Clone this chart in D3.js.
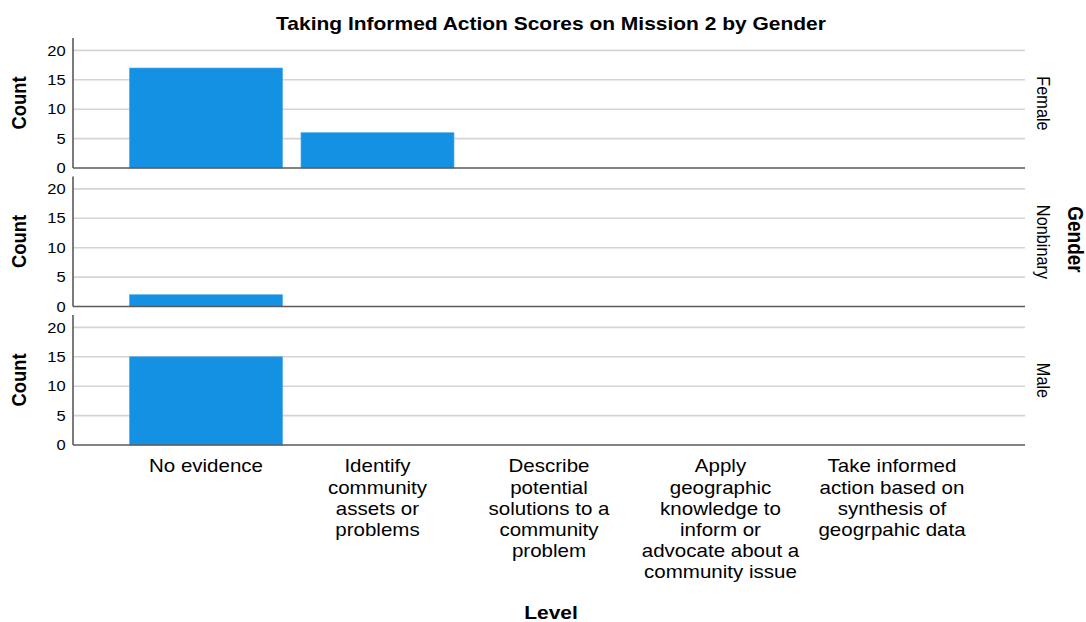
<!DOCTYPE html>
<html>
<head>
<meta charset="utf-8">
<script src="https://cdn.jsdelivr.net/npm/d3@7"></script>
<style>
  html, body { margin: 0; padding: 0; background: #fff; }
  svg { display: block; }
  text { font-family: "Liberation Sans", Arial, sans-serif; fill: #000; }
</style>
</head>
<body>
<svg id="chart" width="1086" height="622"></svg>
<script>
// ---- data ----
const categories = [
  "No evidence",
  "Identify community assets or problems",
  "Describe potential solutions to a community problem",
  "Apply geographic knowledge to inform or advocate about a community issue",
  "Take informed action based on synthesis of geogrpahic data"
];
const categoryLines = [
  ["No evidence"],
  ["Identify", "community", "assets or", "problems"],
  ["Describe", "potential", "solutions to a", "community", "problem"],
  ["Apply", "geographic", "knowledge to", "inform or", "advocate about a", "community issue"],
  ["Take informed", "action based on", "synthesis of", "geogrpahic data"]
];
const genders = ["Female", "Nonbinary", "Male"];
const femaleCounts = [17, 6, 0, 0, 0];
const nonbinaryCounts = [2, 0, 0, 0, 0];
const maleCounts = [15, 0, 0, 0, 0];
const yTicks = [0, 5, 10, 15, 20];
const title = "Taking Informed Action Scores on Mission 2 by Gender";
const xTitle = "Level";
const yTitle = "Count";
const facetTitle = "Gender";

const seriesByGender = [femaleCounts, nonbinaryCounts, maleCounts];

// ---- layout (native coords, horizontally stretched) ----
const SX = 1.14;
const svg = d3.select("#chart");
const root = svg.append("g").attr("transform", `scale(${SX},1)`);

const axisX = 73 / SX;
const plotRight = 1025 / SX;
const panelTop0 = 38, panelH = 130, panelStep = 138.5;

const x = d3.scaleBand()
  .domain(categories)
  .range([120.25 / SX, 977.75 / SX])
  .paddingInner(0.108)
  .paddingOuter(0.054);

const y = d3.scaleLinear().domain([0, 22.1]).range([panelH, 0]);

const barColor = "#1591e4";
const gridColor = "#d4d4d4";
const axisColor = "#5a5a5a";

// title
root.append("text")
  .attr("x", 551 / SX).attr("y", 30)
  .attr("text-anchor", "middle")
  .style("font-size", "18.4px").style("font-weight", "bold")
  .text(title);

genders.forEach((g, gi) => {
  const top = panelTop0 + gi * panelStep;
  const panel = root.append("g").attr("transform", `translate(0,${top})`);

  // gridlines
  panel.selectAll("line.grid")
    .data(yTicks.filter(t => t > 0))
    .enter().append("line")
    .attr("class", "grid")
    .attr("x1", axisX).attr("x2", plotRight)
    .attr("y1", d => y(d)).attr("y2", d => y(d))
    .attr("stroke", gridColor).attr("stroke-width", 1.6);

  // bars
  const vals = seriesByGender[gi];
  panel.selectAll("rect.bar")
    .data(categories.map((c, i) => ({ c, v: vals[i] })).filter(d => d.v > 0))
    .enter().append("rect")
    .attr("class", "bar")
    .attr("x", d => x(d.c))
    .attr("width", x.bandwidth())
    .attr("y", d => y(d.v))
    .attr("height", d => y(0) - y(d.v))
    .attr("fill", barColor)
    .attr("stroke", "#4aa9ec").attr("stroke-width", 0.6);

  // y axis
  const yAxis = d3.axisLeft(y).tickValues(yTicks).tickSize(0).tickPadding(6.5);
  const ya = panel.append("g").attr("transform", `translate(${axisX},0)`).call(yAxis);
  ya.select(".domain").remove();
  ya.selectAll("text")
    .style("font-family", '"Liberation Sans", Arial, sans-serif')
    .style("font-size", "14.5px").attr("fill", "#000");

  // axis lines
  panel.append("line")
    .attr("x1", axisX).attr("x2", axisX)
    .attr("y1", 0).attr("y2", y(0))
    .attr("stroke", axisColor).attr("stroke-width", 1.4);
  panel.append("line")
    .attr("x1", axisX).attr("x2", plotRight)
    .attr("y1", y(0)).attr("y2", y(0))
    .attr("stroke", axisColor).attr("stroke-width", 1.6);

  // y title
  const cy = panelH / 2;
  panel.append("text")
    .attr("transform", `translate(${25.5 / SX},${cy}) rotate(-90)`)
    .attr("text-anchor", "middle")
    .style("font-size", "18.4px").style("font-weight", "bold")
    .text(yTitle);

  // facet label
  panel.append("text")
    .attr("transform", `translate(${1037 / SX},${cy + 0.5}) rotate(90)`)
    .attr("text-anchor", "middle")
    .style("font-size", "16.3px")
    .text(g);
});

// facet title
root.append("text")
  .attr("transform", `translate(${1068 / SX},${panelTop0 + panelStep + panelH / 2 - 2}) rotate(90)`)
  .attr("text-anchor", "middle")
  .style("font-size", "19px").style("font-weight", "bold")
  .text(facetTitle);

// category labels (x axis)
const xa = root.append("g");
categories.forEach((c, i) => {
  const t = xa.append("text")
    .attr("x", x(c) + x.bandwidth() / 2)
    .attr("y", 472.5)
    .attr("text-anchor", "middle")
    .style("font-size", "18px");
  categoryLines[i].forEach((ln, k) => {
    t.append("tspan")
      .attr("x", x(c) + x.bandwidth() / 2)
      .attr("dy", k === 0 ? 0 : 21.2)
      .text(ln);
  });
});

// x title
root.append("text")
  .attr("x", 551 / SX).attr("y", 619)
  .attr("text-anchor", "middle")
  .style("font-size", "18.4px").style("font-weight", "bold")
  .text(xTitle);
</script>
</body>
</html>
